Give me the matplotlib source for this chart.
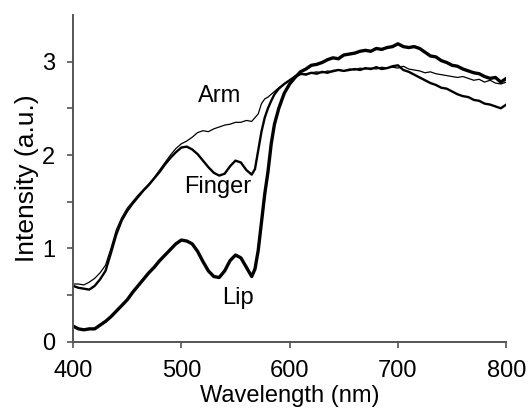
import matplotlib
matplotlib.use("Agg")
import matplotlib.pyplot as plt
import numpy as np

plt.rcParams['font.family'] = ['Liberation Sans', 'DejaVu Sans']

# wavelength grid (nm): 5 nm steps, finer through the steep edge near 570-590
wavelength = np.concatenate([np.arange(400, 566, 5),
                             np.arange(568, 587, 3),
                             np.arange(590, 801, 5)])

lip = [0.17, 0.14, 0.13, 0.14, 0.14, 0.18, 0.22, 0.27, 0.33, 0.39,
       0.45, 0.53, 0.60, 0.67, 0.74, 0.80, 0.87, 0.93, 0.99, 1.05,
       1.09, 1.08, 1.05, 0.97, 0.86, 0.76, 0.70, 0.69, 0.76, 0.87,
       0.93, 0.90, 0.80, 0.70,
       0.78, 0.98, 1.28, 1.58, 1.82, 2.12, 2.33,
       2.50, 2.66, 2.76, 2.83, 2.89, 2.92, 2.96, 2.97, 2.99, 3.02,
       3.04, 3.03, 3.07, 3.08, 3.09, 3.11, 3.12, 3.11, 3.14, 3.13,
       3.15, 3.16, 3.19, 3.16, 3.15, 3.16, 3.14, 3.10, 3.06, 3.05,
       3.01, 2.99, 2.96, 2.95, 2.92, 2.90, 2.88, 2.87, 2.84, 2.82,
       2.83, 2.78, 2.82]

finger = [0.60, 0.58, 0.57, 0.56, 0.60, 0.67, 0.76, 0.95, 1.15, 1.30,
          1.40, 1.48, 1.55, 1.62, 1.68, 1.75, 1.82, 1.90, 1.97, 2.03,
          2.08, 2.09, 2.06, 2.01, 1.94, 1.87, 1.81, 1.78, 1.80, 1.88,
          1.94, 1.92, 1.84, 1.79,
          1.85, 2.05, 2.25, 2.40, 2.50, 2.58, 2.65,
          2.71, 2.76, 2.80, 2.84, 2.87, 2.86, 2.88, 2.87, 2.89, 2.88,
          2.90, 2.91, 2.90, 2.91, 2.92, 2.91, 2.93, 2.92, 2.94, 2.92,
          2.93, 2.95, 2.96, 2.91, 2.89, 2.86, 2.83, 2.80, 2.77, 2.75,
          2.72, 2.71, 2.68, 2.65, 2.63, 2.62, 2.59, 2.58, 2.55, 2.54,
          2.52, 2.50, 2.54]

arm = [0.62, 0.62, 0.61, 0.64, 0.68, 0.74, 0.82, 1.00, 1.20, 1.33,
       1.43, 1.50, 1.57, 1.63, 1.69, 1.76, 1.84, 1.92, 2.00, 2.07,
       2.12, 2.15, 2.19, 2.24, 2.26, 2.25, 2.28, 2.30, 2.32, 2.33,
       2.35, 2.35, 2.37, 2.36,
       2.40, 2.44, 2.55, 2.60, 2.62, 2.65, 2.68,
       2.72, 2.76, 2.80, 2.83, 2.86, 2.87, 2.88, 2.89, 2.88, 2.90,
       2.89, 2.91, 2.90, 2.92, 2.91, 2.93, 2.92, 2.93, 2.92, 2.94,
       2.93, 2.94, 2.93, 2.95, 2.92, 2.91, 2.90, 2.88, 2.89, 2.87,
       2.86, 2.85, 2.84, 2.83, 2.84, 2.82, 2.80, 2.81, 2.78, 2.80,
       2.77, 2.76, 2.78]

fig = plt.figure(figsize=(5.29, 4.12), dpi=100)
ax = fig.add_axes([0.138, 0.170, 0.819, 0.794])

ax.plot(wavelength, arm, color='black', linewidth=0.9)
ax.plot(wavelength, finger, color='black', linewidth=1.7)
ax.plot(wavelength, lip, color='black', linewidth=2.4)

ax.text(535, 2.63, 'Arm', fontsize=17, ha='center', va='center')
ax.text(534, 1.66, 'Finger', fontsize=17, ha='center', va='center')
ax.text(552, 0.47, 'Lip', fontsize=17, ha='center', va='center')

ax.set_xlim(400, 800)
ax.set_ylim(0, 3.5)
ax.set_xticks([400, 500, 600, 700, 800])
ax.set_yticks([0, 1, 2, 3])
ax.set_yticks([0.5, 1.5, 2.5], minor=True)
ax.tick_params(axis='both', which='both', direction='out', labelsize=17,
               colors='#555555', labelcolor='black', width=1.2, length=4)
ax.tick_params(axis='x', which='major', pad=9)
ax.tick_params(axis='y', which='major', pad=9)

for side in ['top', 'right']:
    ax.spines[side].set_visible(False)
for side in ['left', 'bottom']:
    ax.spines[side].set_color('#555555')
    ax.spines[side].set_linewidth(1.4)

ax.set_xlabel('Wavelength (nm)', fontsize=17, labelpad=2)
ax.set_ylabel('Intensity (a.u.)', fontsize=19, labelpad=2)

fig.savefig('out.png', dpi=100)
